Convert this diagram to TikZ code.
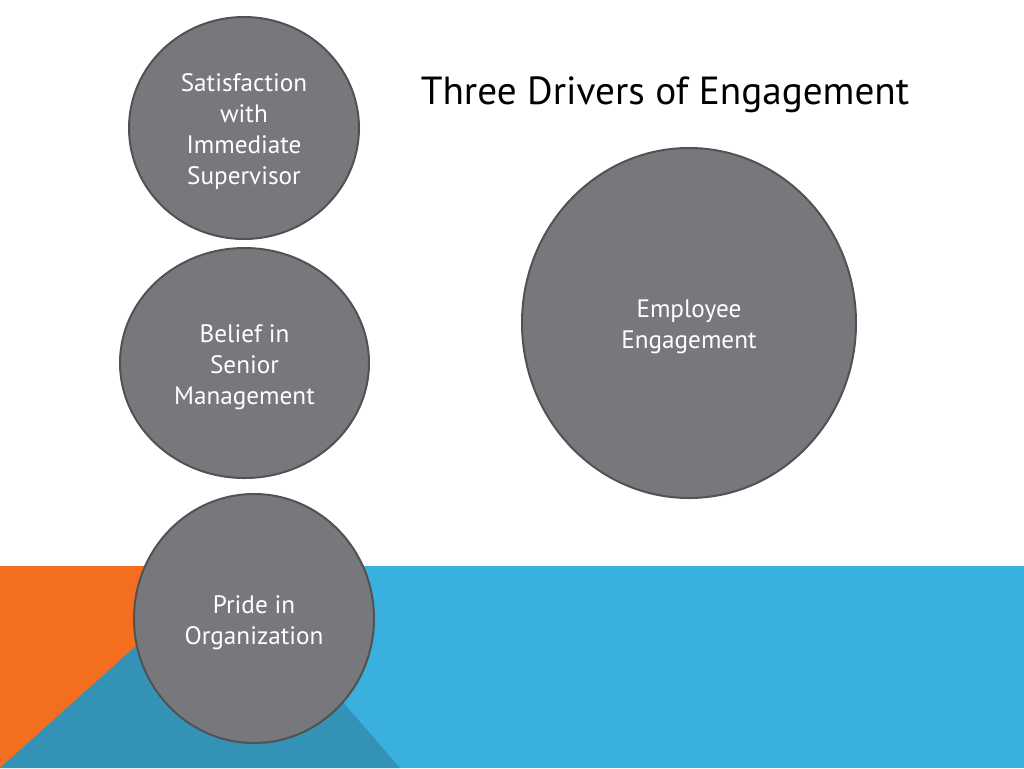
\documentclass[tikz,border=0pt]{standalone}
\usepackage{fontspec}
\setmainfont{PT Sans}
\usetikzlibrary{shapes.geometric}
\definecolor{bandorange}{RGB}{244,110,32}
\definecolor{bandblue}{RGB}{58,176,222}
\definecolor{banddark}{RGB}{52,146,182}
\definecolor{discgray}{RGB}{119,120,124}
\definecolor{ringgray}{RGB}{82,82,84}
\begin{document}
\begin{tikzpicture}[x=0.5pt,y=-0.5pt,
    driver/.style={ellipse, draw=ringgray, line width=1pt, fill=discgray, inner sep=0pt},
    drivertext/.style={text=white, align=center, yshift=-2pt, font=\fontsize{12.6}{15.5}\selectfont}]
  \useasboundingbox (0,0) rectangle (1024,768);
  % background band
  \fill[bandblue] (0,566) rectangle (1024,768);
  \fill[bandorange] (0,566) rectangle (225,768);
  \fill[banddark] (0,768) -- (225,566) -- (400,768) -- cycle;
  % title
  \node[font=\fontsize{19.6}{22}\selectfont] (title) at (665,95) {Three Drivers of Engagement};
  % drivers
  \node[driver, minimum width=115pt, minimum height=111pt,
    label={[drivertext]center:Satisfaction\\with\\Immediate\\Supervisor}] (supervisor) at (244,128) {};
  \node[driver, minimum width=124.5pt, minimum height=115pt,
    label={[drivertext]center:Belief in\\Senior\\Management}] (senior) at (244.5,363) {};
  \node[driver, minimum width=120pt, minimum height=124.5pt,
    label={[drivertext]center:Pride in\\Organization}] (pride) at (254,618.5) {};
  \node[driver, minimum width=167pt, minimum height=175pt,
    label={[drivertext]center:Employee\\Engagement}] (engagement) at (689,323) {};
\end{tikzpicture}
\end{document}
